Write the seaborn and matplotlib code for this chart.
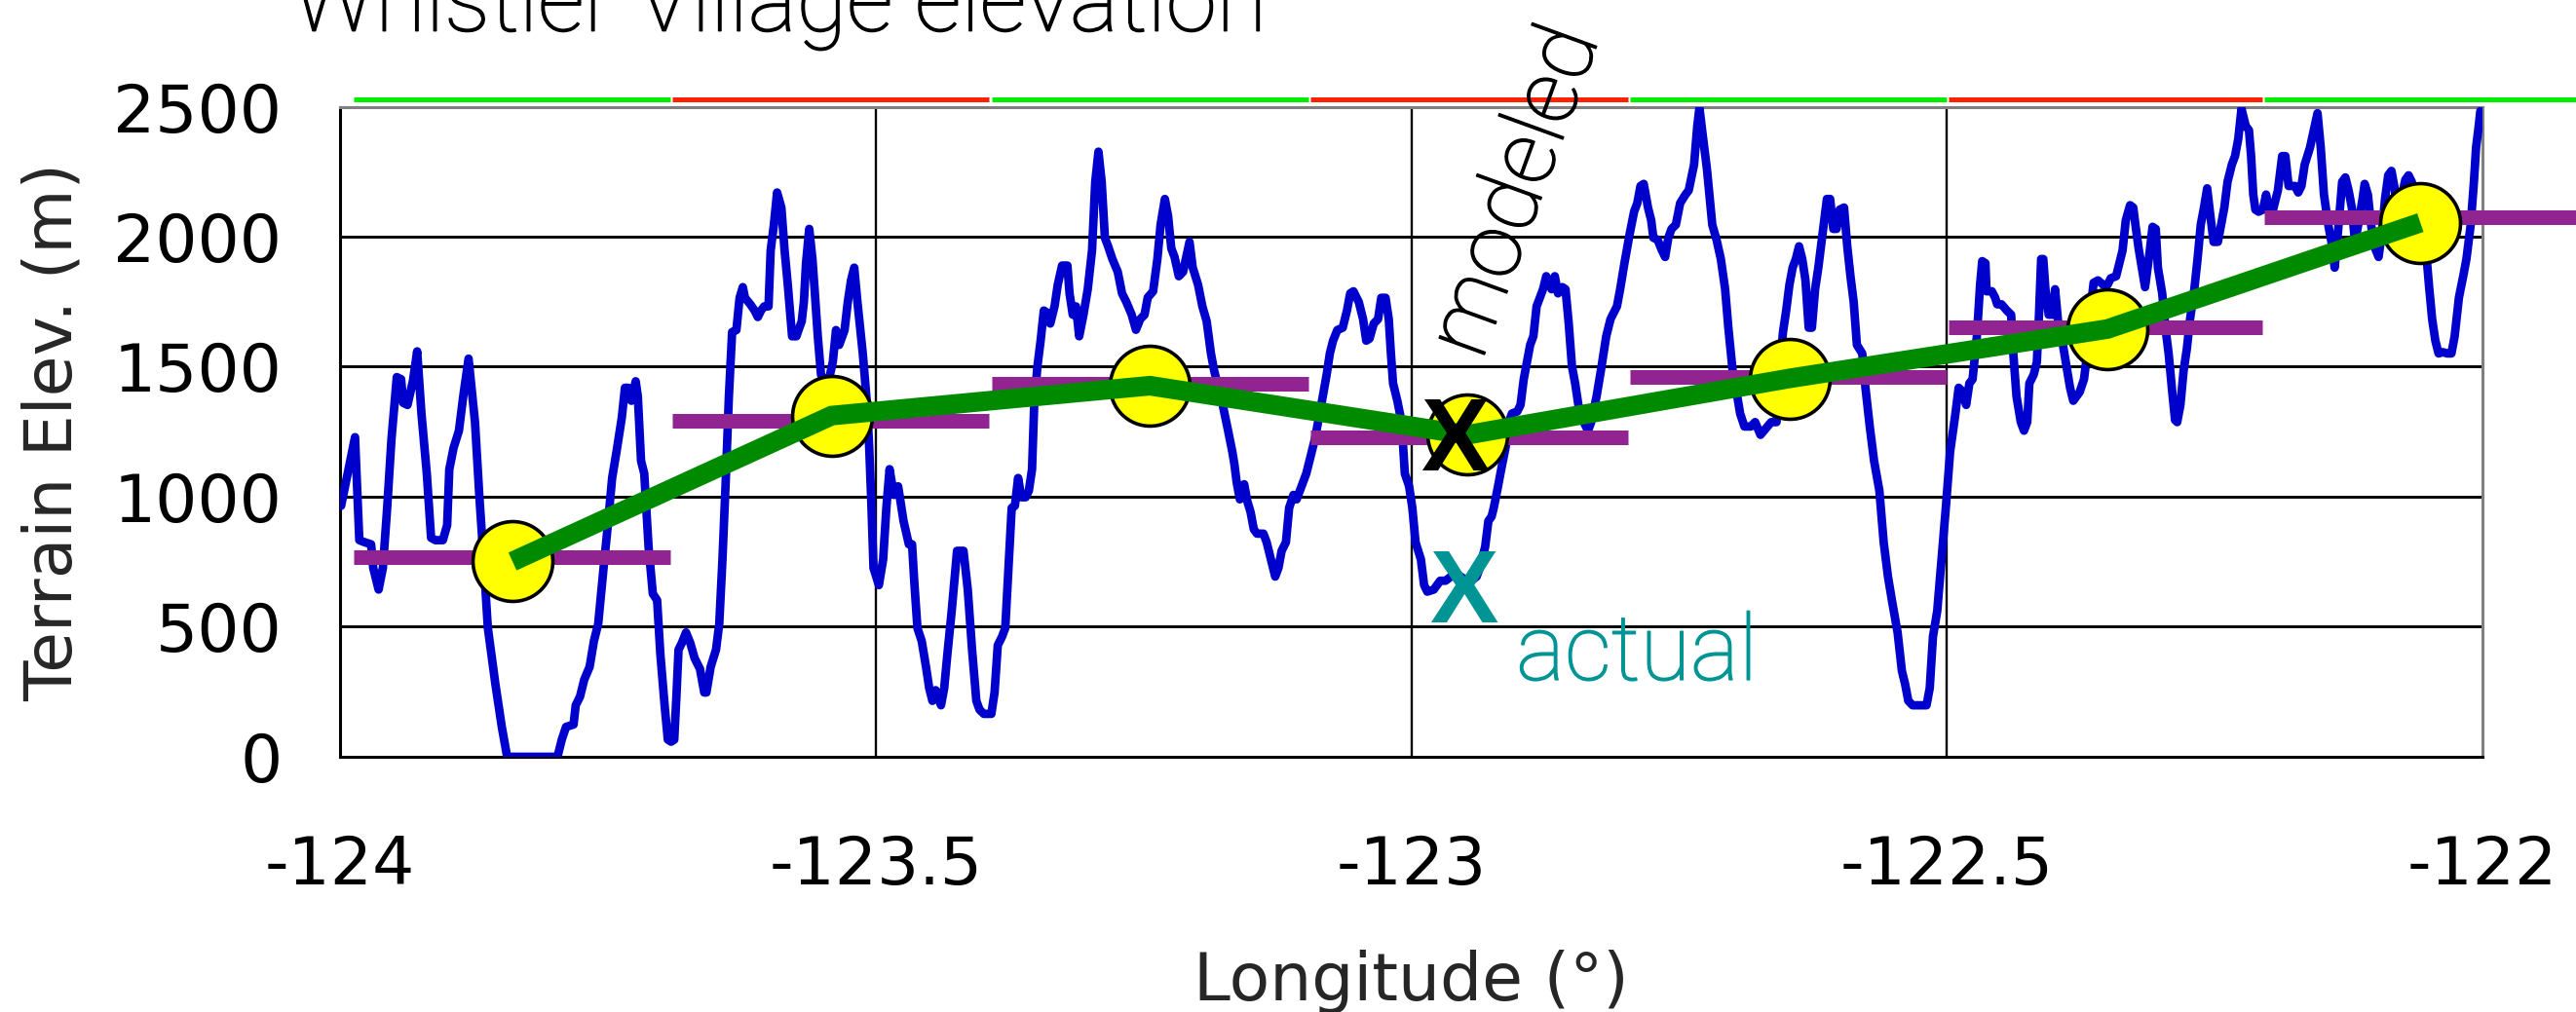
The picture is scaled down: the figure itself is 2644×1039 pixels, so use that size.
import matplotlib
matplotlib.use("Agg")
import seaborn as sns
from matplotlib import pyplot as plt
from matplotlib import ticker
from matplotlib import patheffects as pe

# terrain profile along the transect: longitude (deg) and elevation (m)
terrain_lon = [
    -123.999, -123.986, -123.982, -123.977, -123.971, -123.969, -123.964, -123.960, -123.956, -123.952,
    -123.947, -123.943, -123.941, -123.937, -123.932, -123.928, -123.924, -123.919, -123.915, -123.911,
    -123.904, -123.900, -123.898, -123.894, -123.889, -123.885, -123.880, -123.874, -123.870, -123.866,
    -123.862, -123.855, -123.849, -123.844, -123.797, -123.793, -123.789, -123.782, -123.780, -123.776,
    -123.772, -123.767, -123.763, -123.759, -123.754, -123.750, -123.746, -123.742, -123.737, -123.734,
    -123.731, -123.728, -123.724, -123.722, -123.719, -123.716, -123.712, -123.708, -123.704, -123.701,
    -123.697, -123.694, -123.691, -123.688, -123.686, -123.684, -123.681, -123.677, -123.673, -123.669,
    -123.664, -123.660, -123.658, -123.654, -123.649, -123.646, -123.643, -123.640, -123.637, -123.634,
    -123.630, -123.627, -123.624, -123.622, -123.617, -123.613, -123.610, -123.607, -123.604, -123.600,
    -123.598, -123.595, -123.592, -123.588, -123.585, -123.582, -123.578, -123.574, -123.572, -123.569,
    -123.567, -123.565, -123.562, -123.559, -123.557, -123.554, -123.551, -123.548, -123.544, -123.540,
    -123.537, -123.534, -123.529, -123.526, -123.523, -123.520, -123.517, -123.512, -123.508, -123.506,
    -123.504, -123.502, -123.497, -123.493, -123.490, -123.487, -123.483, -123.479, -123.474, -123.469,
    -123.466, -123.464, -123.461, -123.457, -123.453, -123.450, -123.447, -123.444, -123.439, -123.436,
    -123.433, -123.429, -123.424, -123.418, -123.414, -123.410, -123.406, -123.403, -123.399, -123.392,
    -123.389, -123.386, -123.382, -123.379, -123.376, -123.373, -123.370, -123.367, -123.364, -123.360,
    -123.357, -123.354, -123.352, -123.349, -123.346, -123.343, -123.340, -123.337,
    -123.333, -123.330, -123.326, -123.321, -123.319, -123.316, -123.313, -123.310, -123.306, -123.302,
    -123.298, -123.295, -123.292, -123.289, -123.286, -123.283, -123.279, -123.274, -123.270, -123.266,
    -123.261, -123.257, -123.253, -123.249, -123.246, -123.241, -123.237, -123.234, -123.230, -123.227,
    -123.224, -123.221, -123.217, -123.213, -123.210, -123.207, -123.204, -123.199, -123.195, -123.191,
    -123.187, -123.184, -123.180, -123.176, -123.171, -123.167, -123.165, -123.163, -123.160, -123.156,
    -123.153, -123.150, -123.147, -123.144, -123.138, -123.135, -123.131, -123.127, -123.124, -123.121,
    -123.117, -123.114, -123.110, -123.107, -123.104, -123.101, -123.098, -123.094, -123.090, -123.084,
    -123.079, -123.076, -123.073, -123.069, -123.064, -123.060, -123.057, -123.054, -123.049, -123.045,
    -123.042, -123.039, -123.035, -123.031, -123.028, -123.024, -123.021, -123.019, -123.017, -123.013,
    -123.009, -123.006, -123.002, -122.999, -122.996, -122.991, -122.988, -122.985, -122.979, -122.973,
    -122.968, -122.963, -122.957, -122.951, -122.944, -122.939, -122.936, -122.931, -122.928, -122.925,
    -122.923, -122.919, -122.916, -122.912, -122.909, -122.906, -122.901, -122.898, -122.895, -122.892,
    -122.889, -122.886, -122.883, -122.880, -122.877, -122.874, -122.869, -122.866, -122.863, -122.859,
    -122.856, -122.853, -122.850, -122.847, -122.844, -122.839, -122.835, -122.832, -122.827, -122.823,
    -122.818, -122.814, -122.808, -122.805, -122.801, -122.796, -122.792, -122.789, -122.786, -122.783,
    -122.779, -122.776, -122.774, -122.770, -122.766, -122.763, -122.760, -122.757, -122.753, -122.749,
    -122.744, -122.741, -122.736, -122.733, -122.731, -122.728, -122.724, -122.719, -122.715, -122.711,
    -122.707, -122.704, -122.700, -122.697, -122.693, -122.689, -122.683, -122.679, -122.674,
    -122.664, -122.659, -122.656, -122.653, -122.650, -122.647, -122.644, -122.641, -122.638, -122.635,
    -122.632, -122.629, -122.626, -122.623, -122.620, -122.617, -122.612, -122.609, -122.606, -122.603,
    -122.600, -122.596, -122.593, -122.590, -122.587, -122.584, -122.579, -122.576, -122.572, -122.568,
    -122.563, -122.559, -122.555, -122.551, -122.546, -122.542, -122.539, -122.536, -122.532, -122.519,
    -122.516, -122.513, -122.509, -122.505, -122.501, -122.497, -122.492, -122.489, -122.485, -122.482,
    -122.479, -122.476, -122.472, -122.469, -122.467, -122.464, -122.463, -122.458, -122.455, -122.453,
    -122.449, -122.444, -122.440, -122.438, -122.435, -122.431, -122.428, -122.425, -122.423, -122.419,
    -122.416, -122.414, -122.412, -122.410, -122.408, -122.405, -122.401, -122.399, -122.396, -122.393,
    -122.389, -122.385, -122.382, -122.379, -122.376, -122.372, -122.369, -122.366, -122.363, -122.359,
    -122.354, -122.350, -122.347, -122.342, -122.339, -122.336, -122.333, -122.329, -122.326, -122.324,
    -122.321, -122.318, -122.315, -122.311, -122.308, -122.305, -122.303, -122.299, -122.296, -122.293,
    -122.290, -122.287, -122.285, -122.282, -122.279, -122.276, -122.273, -122.269, -122.266, -122.263,
    -122.260, -122.257, -122.254, -122.251, -122.247, -122.244, -122.241, -122.238, -122.234, -122.231,
    -122.228, -122.225, -122.221, -122.218, -122.216, -122.214, -122.212, -122.209, -122.205, -122.202,
    -122.199, -122.196, -122.191, -122.187, -122.184, -122.181, -122.175, -122.172, -122.169, -122.166,
    -122.161, -122.157, -122.154, -122.151, -122.148, -122.144, -122.141, -122.138, -122.135, -122.131,
    -122.128, -122.125, -122.122, -122.119, -122.116, -122.112, -122.110, -122.107, -122.104, -122.101,
    -122.097, -122.094, -122.091, -122.088, -122.085, -122.082, -122.079, -122.076, -122.072, -122.069,
    -122.066, -122.063, -122.059, -122.053, -122.050, -122.047, -122.044, -122.041, -122.037, -122.033,
    -122.029, -122.026, -122.022, -122.018, -122.015, -122.011, -122.008, -122.006, -122.004, -122.002,
]
terrain_elev = [
    965, 1229, 833, 825, 817, 726, 643, 726, 957, 1221,
    1460, 1452, 1361, 1353, 1444, 1559, 1320, 1089, 842, 833,
    833, 891, 1105, 1188, 1254, 1386, 1531, 1287, 1006, 759,
    495, 280, 115, 0, 0, 66, 115, 124, 198, 231,
    297, 346, 445, 511, 726, 891, 1072, 1171, 1303, 1419,
    1419, 1369, 1444, 1386, 1138, 1089, 808, 627, 602, 396,
    198, 66, 58, 66, 231, 412, 437, 478, 437, 379,
    338, 247, 247, 346, 412, 511, 759, 1056, 1386, 1633,
    1641, 1765, 1806, 1765, 1740, 1716, 1691, 1716, 1732, 1732,
    1947, 2046, 2170, 2112, 1947, 1815, 1617, 1617, 1641, 1675,
    1749, 1898, 2030, 1914, 1798, 1617, 1469, 1444, 1444, 1518,
    1641, 1584, 1641, 1749, 1832, 1881, 1749, 1551, 1353, 1188,
    974, 726, 660, 759, 957, 1106, 1007, 1040, 907, 817,
    817, 677, 495, 445, 346, 264, 215, 256, 198, 264,
    396, 561, 792, 792, 643, 412, 215, 181, 165, 165,
    247, 429, 462, 495, 726, 957, 965, 1072, 998, 998,
    1023, 1106, 1353, 1501, 1600, 1716, 1708, 1666,
    1732, 1815, 1889, 1889, 1782, 1700, 1732, 1617, 1700, 1798,
    1947, 2211, 2327, 2211, 1996, 1963, 1914, 1865, 1782, 1749,
    1700, 1642, 1683, 1700, 1766, 1790, 1914, 2046, 2145, 2079,
    1955, 1922, 1848, 1865, 1922, 1980, 1881, 1815, 1732, 1675,
    1551, 1485, 1419, 1353, 1254, 1172, 1122, 1056, 990, 1048,
    982, 941, 875, 858, 858, 825, 759, 693, 726, 792,
    825, 957, 1007, 990, 1023, 1056, 1089, 1155, 1221, 1353,
    1469, 1551, 1600, 1641, 1650, 1716, 1782, 1790, 1749, 1683,
    1600, 1608, 1666, 1683, 1765, 1765, 1683, 1551, 1436, 1369,
    1287, 1089, 1040, 957, 825, 759, 660, 635, 643, 677,
    677, 693, 701, 685, 677, 693, 726, 808, 907, 924,
    957, 1040, 1106, 1188, 1287, 1320, 1328, 1353, 1452, 1518,
    1584, 1617, 1732, 1765, 1798, 1848, 1798, 1848, 1782, 1806,
    1798, 1666, 1502, 1436, 1353, 1287, 1254, 1287, 1386, 1485,
    1617, 1683, 1732, 1798, 1898, 2013, 2096, 2129, 2195, 2203,
    2112, 2063, 1996, 1988, 1947, 1922, 1996, 2030, 2046, 2129,
    2162, 2178, 2277, 2426, 2495, 2393, 2261, 2046, 1988, 1914,
    1798, 1650, 1485, 1419, 1320, 1270, 1270, 1287, 1238,
    1287, 1287, 1485, 1633, 1716, 1815, 1881, 1914, 1963, 1914,
    1832, 1650, 1650, 1798, 1881, 1980, 2145, 2145, 2030, 2030,
    2104, 2112, 1963, 1848, 1749, 1584, 1551, 1419, 1270, 1139,
    1023, 825, 693, 594, 478, 330, 280, 215, 198, 198,
    264, 462, 561, 759, 957, 1172, 1320, 1419, 1403, 1353,
    1436, 1452, 1617, 1815, 1906, 1898, 1790, 1790, 1766, 1740,
    1740, 1716, 1700, 1551, 1386, 1287, 1254, 1287, 1436, 1469,
    1518, 1700, 1914, 1914, 1798, 1700, 1700, 1798, 1666, 1617,
    1518, 1419, 1369, 1386, 1403, 1452, 1551, 1716, 1823, 1832,
    1815, 1815, 1840, 1848, 1898, 1947, 2063, 2121, 2112, 2046,
    1955, 1881, 1806, 1931, 2038, 2030, 1881, 1782, 1650, 1551,
    1419, 1295, 1287, 1353, 1485, 1568, 1683, 1798, 1914, 2046,
    2112, 2186, 2079, 1980, 1980, 2046, 2112, 2211, 2277, 2310,
    2376, 2492, 2426, 2409, 2310, 2162, 2104, 2096, 2104, 2162,
    2096, 2096, 2178, 2310, 2310, 2195, 2195, 2170, 2195, 2277,
    2343, 2418, 2475, 2343, 2162, 2046, 1980, 1881, 2013, 2211,
    2228, 2178, 2112, 1980, 2046, 2145, 2203, 2162, 2046, 1963,
    1922, 2013, 2145, 2236, 2253, 2186, 2079, 2145, 2219, 2236,
    2211, 2150, 2060, 1960, 1815, 1683, 1600, 1551, 1556, 1551,
    1551, 1617, 1766, 1848, 1914, 2046, 2211, 2343, 2409, 2483,
]
assert len(terrain_lon) == len(terrain_elev)

# model grid cells along the transect
cell_start = [-123.987, -123.690, -123.392, -123.094, -122.796, -122.498, -122.204]
cell_end = [-123.692, -123.394, -123.096, -122.798, -122.500, -122.206, -121.900]
cell_mean_elev = [767, 1292, 1435, 1229, 1460, 1653, 2074]
cell_colors = ["#00ee00", "#ff2200", "#00ee00", "#ff2200", "#00ee00", "#ff2200", "#00ee00"]
cell_bar_level = 2530

# modeled grid point elevations
model_lon = [-123.839, -123.541, -123.244, -122.948, -122.647, -122.350, -122.058]
model_elev = [751, 1312, 1427, 1238, 1455, 1645, 2054]

# Whistler Village: modeled vs actual (lon, elev)
village_modeled = [-122.959, 1240]
village_actual = [-122.951, 659]

x_ticks = [-124, -123.5, -123, -122.5, -122]
x_tick_labels = ["-124", "-123.5", "-123", "-122.5", "-122"]
y_ticks = [0, 500, 1000, 1500, 2000, 2500]
y_tick_labels = ["0", "500", "1000", "1500", "2000", "2500"]

sns.set_style("white")
plt.rcParams["font.family"] = ["DejaVu Sans"]
plt.rcParams["axes.unicode_minus"] = False

fig = plt.figure(figsize=(26.44, 10.39), dpi=100)
ax = fig.add_axes([0.1320, 0.2522, 0.8317, 0.6424])

# terrain
sns.lineplot(x=terrain_lon, y=terrain_elev, color="#0000cc", linewidth=6.3,
             sort=False, estimator=None, ax=ax, zorder=3)

# cell mean elevation bars and cell strip above the plot
ax.hlines(cell_mean_elev, cell_start, cell_end, colors="#912490", linewidth=10.8,
          capstyle="butt", clip_on=False, zorder=4)
ax.hlines([cell_bar_level] * len(cell_start), cell_start, cell_end, colors=cell_colors,
          linewidth=3.6, capstyle="butt", clip_on=False, zorder=4)

# modeled points
sns.scatterplot(x=model_lon, y=model_elev, s=59 ** 2, color="#ffff00", edgecolor="black",
                linewidth=2.6, ax=ax, zorder=5)
sns.lineplot(x=model_lon, y=model_elev, color="#008a00", linewidth=14.5, sort=False,
             estimator=None, solid_capstyle="butt", solid_joinstyle="miter", ax=ax, zorder=6)

# village markers
x_font = dict(family="Liberation Sans", weight="bold", fontsize=76)
ax.annotate("X", xy=village_modeled, xytext=(0, -27), textcoords="offset points",
            ha="center", va="baseline", color="black", zorder=8, **x_font)
ax.annotate("X", xy=village_actual, xytext=(0, -27), textcoords="offset points",
            ha="center", va="baseline", color="#009494", zorder=8, **x_font)


def thin_text(color):
    return dict(family="Roboto", weight="light", color=color,
                path_effects=[pe.withStroke(linewidth=1.0, foreground=color)])


t_model = ax.text(-122.934, 1521, "modeled", rotation=0, rotation_mode="anchor",
                  ha="left", va="baseline", zorder=8, fontsize=60, **thin_text("black"))
t_actual = ax.text(-122.902, 296, "actual", ha="left", va="baseline", zorder=8,
                   fontsize=60, **thin_text("#009494"))
t_title = fig.text(0.1135, 0.9695, "Whistler Village elevation", ha="left", va="baseline",
                   fontsize=60, **thin_text("black"))

# size the annotation texts to the widths measured on the original (pixels)
renderer = fig.canvas.get_renderer()
for txt, width_px in [(t_model, 352), (t_actual, 248), (t_title, 1000)]:
    w = txt.get_window_extent(renderer).width
    txt.set_fontsize(txt.get_fontsize() * width_px / w)
t_model.set_rotation(70)

# axes
ax.set_xlim(-124, -122)
ax.set_ylim(0, 2500)
ax.set_xticks(x_ticks)
ax.set_xticklabels(x_tick_labels)
ax.set_yticks(y_ticks)
ax.set_yticklabels(y_tick_labels)
ax.xaxis.set_minor_locator(ticker.MultipleLocator(0.1))
ax.yaxis.set_minor_locator(ticker.MultipleLocator(100))

ax.tick_params(which="major", direction="inout", length=36, width=1.5, colors="black",
               labelsize=49)
ax.tick_params(which="minor", direction="inout", length=26, width=1.5, colors="black")
ax.tick_params(axis="x", which="major", pad=39)
ax.tick_params(axis="y", which="major", pad=25)

ax.set_axisbelow(True)
ax.grid(axis="y", which="major", color="black", linewidth=2.1)
ax.grid(axis="x", which="major", color="black", linewidth=1.7)
for ln, v in zip(ax.get_xgridlines(), x_ticks):
    if v in (x_ticks[0], x_ticks[-1]):
        ln.set_visible(False)
for ln, v in zip(ax.get_ygridlines(), y_ticks):
    if v in (y_ticks[0], y_ticks[-1]):
        ln.set_visible(False)

for side in ["left", "bottom"]:
    ax.spines[side].set_color("black")
    ax.spines[side].set_linewidth(2.2)
for side in ["top", "right"]:
    ax.spines[side].set_color("#808080")
    ax.spines[side].set_linewidth(2.2)

ax.set_xlabel("Longitude (°)", fontsize=49)
ax.set_ylabel("Terrain Elev. (m)", fontsize=49)
ax.xaxis.set_label_coords(0.5, -0.2967)
ax.yaxis.set_label_coords(-0.1187, 0.5)

fig.savefig("out.png", dpi=100)
